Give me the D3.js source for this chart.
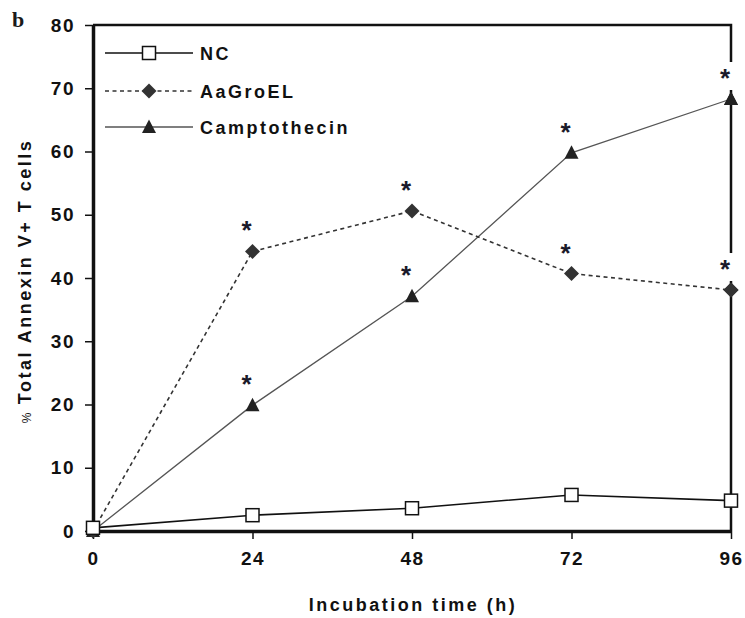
<!DOCTYPE html>
<html lang="en">
<head>
<meta charset="UTF-8">
<title>Annexin V+ T cells</title>
<script src="https://d3js.org/d3.v7.min.js"></script>
<style>
    body { margin: 0; background: #fff; }
    svg { font-family: 'Liberation Sans', Arial, sans-serif; }
    .tick text { font-size: 19px; font-weight: bold; fill: #111; letter-spacing: 1.5px; }
    .lbl { font-size: 18px; font-weight: bold; fill: #111; letter-spacing: 2.5px; }
</style>
</head>
<body>
<script>
// data
const hours = [0, 24, 48, 72, 96];
const nc = [0.5, 2.5, 3.6, 5.7, 4.8];
const aaGroEL = [0, 44.2, 50.6, 40.7, 38.1];
const camptothecin = [0, 19.9, 37.1, 59.8, 68.3];
// significance marks (asterisks) per point
const aaStars = [false, true, true, true, true];
const campStars = [false, true, true, true, true];
const yTicks = [0, 10, 20, 30, 40, 50, 60, 70, 80];
const seriesNames = ["NC", "AaGroEL", "Camptothecin"];

const W = 745, H = 618;
const margin = { top: 25, right: 14, bottom: 87, left: 93 };
const width = W - margin.left - margin.right;
const height = H - margin.top - margin.bottom;

const x = d3.scaleLinear().domain([0, 96]).range([0, width]);
const y = d3.scaleLinear().domain([0, 80]).range([height, 0]);

const svg = d3.select("body").append("svg")
    .attr("width", W).attr("height", H);

svg.append("text")
    .attr("x", 12).attr("y", 27)
    .style("font-family", "'Liberation Serif', 'Times New Roman', serif")
    .style("font-weight", "bold").style("font-size", "22px").attr("fill", "#1a1a1a")
    .text("b");

const g = svg.append("g").attr("transform", `translate(${margin.left},${margin.top})`);

// frame top + right
g.append("path")
    .attr("d", `M0,0H${width}V${height}`)
    .attr("fill", "none").attr("stroke", "#111").attr("stroke-width", 2.5);

const xAxis = g.append("g")
    .attr("transform", `translate(0,${height})`)
    .call(d3.axisBottom(x).tickValues(hours).tickSize(8).tickSizeOuter(0).tickPadding(13));
xAxis.select(".domain").attr("stroke", "#111").attr("stroke-width", 3.5);
xAxis.selectAll(".tick line").attr("stroke", "#111").attr("stroke-width", 1.5);

const yAxis = g.append("g")
    .call(d3.axisLeft(y).tickValues(yTicks).tickSize(8).tickSizeOuter(0).tickPadding(10));
yAxis.select(".domain").attr("stroke", "#111").attr("stroke-width", 3.5);
yAxis.selectAll(".tick line").attr("stroke", "#111").attr("stroke-width", 1.5);

// axis titles
g.append("text").attr("class", "lbl")
    .attr("x", 320).attr("y", height + 80)
    .attr("text-anchor", "middle")
    .text("Incubation time (h)");

const yl = g.append("text").attr("class", "lbl")
    .attr("transform", `translate(-62,${height / 2 + 3}) rotate(-90)`)
    .attr("text-anchor", "middle");
yl.append("tspan").style("font-size", "12px").style("font-weight", "normal").text("% ");
yl.append("tspan").text("Total Annexin V+ T cells");

const line = d3.line().x((d, i) => x(hours[i])).y(d => y(d));

const styles = {
    NC: { stroke: "#111", width: 1.6, dash: null },
    AaGroEL: { stroke: "#333", width: 1.6, dash: "4,3.5" },
    Camptothecin: { stroke: "#555", width: 1.3, dash: null }
};

function marker(sel, name) {
    if (name === "NC") {
        sel.append("rect").attr("x", -6.5).attr("y", -6.5).attr("width", 13).attr("height", 13)
            .attr("fill", "#fff").attr("stroke", "#111").attr("stroke-width", 1.5);
    } else if (name === "AaGroEL") {
        sel.append("path").attr("d", "M0,-7.5L7.5,0L0,7.5L-7.5,0Z").attr("fill", "#333");
    } else {
        sel.append("path").attr("d", "M0,-7.5L7,6L-7,6Z").attr("fill", "#222");
    }
}

function drawSeries(name, values, stars) {
    const st = styles[name];
    g.append("path").datum(values)
        .attr("d", line).attr("fill", "none")
        .attr("stroke", st.stroke).attr("stroke-width", st.width)
        .attr("stroke-dasharray", st.dash);
    values.forEach((v, i) => {
        const m = g.append("g").attr("transform", `translate(${x(hours[i])},${y(v)})`);
        marker(m, name);
    });
    if (stars) {
        values.forEach((v, i) => {
            if (!stars[i]) return;
            const sg = g.append("g").attr("transform", `translate(${x(hours[i]) - 6},${y(v) - 25})`);
            // white box behind the asterisk (it cuts the frame on the right)
            sg.append("rect").attr("x", -8).attr("y", -12).attr("width", 16).attr("height", 28).attr("fill", "#fff");
            sg.append("text").attr("text-anchor", "middle").attr("y", 13)
                .style("font-size", "26px").style("font-weight", "bold").attr("fill", "#1a1a2a")
                .text("*");
        });
    }
}

drawSeries("Camptothecin", camptothecin, campStars);
drawSeries("AaGroEL", aaGroEL, aaStars);
drawSeries("NC", nc, null);

// redraw markers on top of star boxes at the right edge
[["Camptothecin", camptothecin], ["AaGroEL", aaGroEL]].forEach(([name, vals]) => {
    const i = vals.length - 1;
    const m = g.append("g").attr("transform", `translate(${x(hours[i])},${y(vals[i])})`);
    marker(m, name);
});

// legend
const legend = g.append("g").attr("transform", "translate(12,28)");
seriesNames.forEach((name, i) => {
    const st = styles[name];
    const row = legend.append("g").attr("transform", `translate(0,${[0, 38, 74][i]})`);
    row.append("line").attr("x1", 0).attr("x2", 88)
        .attr("stroke", st.stroke).attr("stroke-width", name === "Camptothecin" ? 1.6 : st.width)
        .attr("stroke-dasharray", st.dash);
    const m = row.append("g").attr("transform", "translate(44,0)");
    marker(m, name);
    row.append("text").attr("class", "lbl").attr("x", 95).attr("y", 6.5).text(name);
});
</script>
</body>
</html>
